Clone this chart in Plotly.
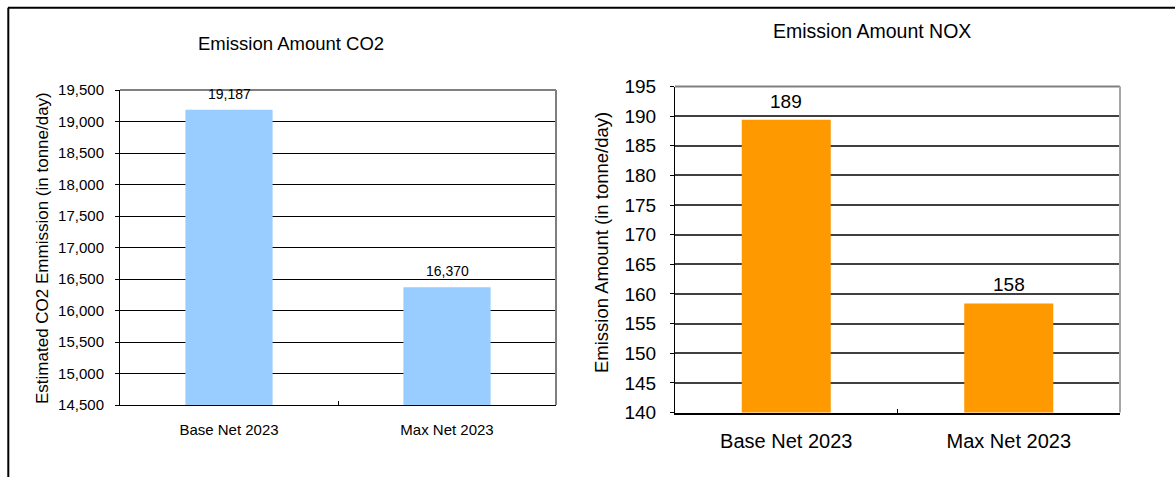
import plotly.graph_objects as go

# ---- data ----
categories = ["Base Net 2023", "Max Net 2023"]
co2_values = [19187, 16370]
co2_labels = ["19,187", "16,370"]
nox_values = [189.4, 158.4]
nox_labels = ["189", "158"]

co2_title = "Emission Amount CO2"
nox_title = "Emission Amount NOX"
co2_ytitle = "Estimated CO2 Emmission (in tonne/day)"
nox_ytitle = "Emission Amount (in tonne/day)"

W, H = 1175, 477
FONT = "Liberation Sans, Arial, sans-serif"


def px(x):
    return x / W


def py(y):
    return 1 - y / H


fig = go.Figure()
fig.add_trace(go.Bar(x=categories, y=co2_values, marker=dict(color="#99CCFF", line=dict(width=0)),
                     xaxis="x", yaxis="y", showlegend=False, hoverinfo="skip"))
fig.add_trace(go.Bar(x=categories, y=nox_values, marker=dict(color="#FF9900", line=dict(width=0)),
                     xaxis="x2", yaxis="y2", showlegend=False, hoverinfo="skip"))

for c, v, t in zip(categories, co2_values, co2_labels):
    fig.add_annotation(x=c, y=v, xref="x", yref="y", text=t, showarrow=False,
                       yanchor="bottom", yshift=6, font=dict(size=14, color="black", family=FONT))
for c, v, t in zip(categories, nox_values, nox_labels):
    fig.add_annotation(x=c, y=v, xref="x2", yref="y2", text=t, showarrow=False,
                       yanchor="bottom", yshift=6, font=dict(size=19, color="black", family=FONT))

# titles
fig.add_annotation(x=px(291), y=py(43), xref="paper", yref="paper", text=co2_title, showarrow=False,
                   xanchor="center", yanchor="middle", font=dict(size=18.5, color="black", family=FONT))
fig.add_annotation(x=px(872), y=py(31), xref="paper", yref="paper", text=nox_title, showarrow=False,
                   xanchor="center", yanchor="middle", font=dict(size=19.5, color="black", family=FONT))
fig.add_annotation(x=px(43), y=py(248), xref="paper", yref="paper", text=co2_ytitle, showarrow=False,
                   textangle=-90, xanchor="center", yanchor="middle",
                   font=dict(size=17, color="black", family=FONT))
fig.add_annotation(x=px(601), y=py(243), xref="paper", yref="paper", text=nox_ytitle, showarrow=False,
                   textangle=-90, xanchor="center", yanchor="middle",
                   font=dict(size=18.5, color="black", family=FONT))

# plot frames (top/right borders)
for xr, yr, tc, rc in [("x domain", "y domain", "#808080", "#808080"),
                       ("x2 domain", "y2 domain", "#808080", "#A6A6A6")]:
    fig.add_shape(type="line", xref=xr, yref=yr, x0=0, x1=1, y0=1, y1=1, line=dict(color=tc, width=2))
    fig.add_shape(type="line", xref=xr, yref=yr, x0=1, x1=1, y0=0, y1=1, line=dict(color=rc, width=2))

# outer border (top and left)
fig.add_shape(type="line", xref="paper", yref="paper", x0=px(8), x1=1, y0=py(7.7), y1=py(7.7),
              line=dict(color="black", width=2))
fig.add_shape(type="line", xref="paper", yref="paper", x0=px(8.3), x1=px(8.3), y0=0, y1=py(7.7),
              line=dict(color="black", width=2))

fig.update_layout(
    width=W, height=H,
    margin=dict(l=0, r=0, t=0, b=0),
    paper_bgcolor="white", plot_bgcolor="white",
    bargap=0.6,
    font=dict(family=FONT, color="black"),
    xaxis=dict(domain=[px(120), px(556)], anchor="y", showline=True, linecolor="black", linewidth=1,
               ticks="inside", tickson="boundaries", ticklen=4, tickcolor="black",
               tickfont=dict(size=15), showgrid=False, automargin=False, ticklabelstandoff=11),
    yaxis=dict(domain=[py(405), py(90)], anchor="x", range=[14500, 19500], dtick=500, tickformat=",d",
               showline=True, linecolor="black", linewidth=1, ticks="outside", ticklen=4, tickcolor="black",
               tickfont=dict(size=15), showgrid=True, gridcolor="black", gridwidth=1,
               zeroline=False, automargin=False, ticklabelstandoff=8),
    xaxis2=dict(domain=[px(675), px(1120)], anchor="y2", showline=True, linecolor="black", linewidth=2,
                ticks="inside", tickson="boundaries", ticklen=4, tickcolor="black",
                tickfont=dict(size=20), showgrid=False, automargin=False, ticklabelstandoff=9),
    yaxis2=dict(domain=[py(412.5), py(86.5)], anchor="x2", range=[140, 195], dtick=5,
                showline=True, linecolor="black", linewidth=1, ticks="outside", ticklen=4, tickcolor="black",
                tickfont=dict(size=19), showgrid=True, gridcolor="#404040", gridwidth=1.5,
                zeroline=False, automargin=False, ticklabelstandoff=10),
)

fig.write_html("out.html")
